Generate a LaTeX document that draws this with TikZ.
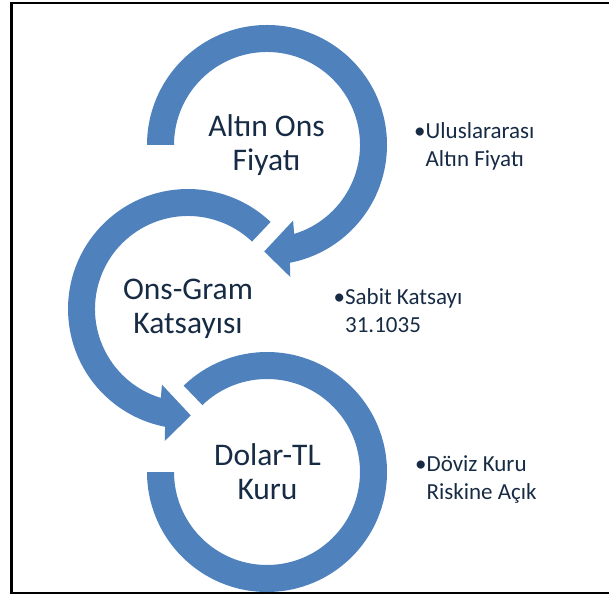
\documentclass[tikz,border=0pt]{standalone}
\usepackage{fontspec}
\setmainfont{Carlito}

\definecolor{ringblue}{HTML}{4F81BD}
\definecolor{textnavy}{HTML}{172B45}

\tikzset{
  ring/.style={fill=ringblue, draw=none},
  steplabel/.style={anchor=base, text=textnavy, inner sep=0pt, font=\fontsize{31.5}{34}\selectfont},
  notelabel/.style={anchor=base west, text=textnavy, inner sep=0pt, font=\fontsize{23}{28}\selectfont},
}

\begin{document}
\begin{tikzpicture}[x=1pt, y=1pt]
\useasboundingbox (0,0) rectangle (609,594);
% frame (right side runs off the page)
\draw[line width=2.5pt] (11.3,591.2) rectangle (620,0.8);

\coordinate (ctop) at (267,449);
\coordinate (cmid) at (188,285);
\coordinate (cbot) at (267,122);

% rings FIRST (so the texts stay on top)
\fill[ring, shift={(ctop)}] (180:93) -- (180:120) arc[start angle=180, end angle=-79, radius=120]
  -- (-80:134) -- (-91.5:106.5) -- (-71:80) -- (-73:93) arc[start angle=-73, end angle=180, radius=93] -- cycle ;
\fill[ring, shift={(cmid)}] (46.5:93) -- (46.5:120) arc[start angle=46.5, end angle=259, radius=120]
  -- (260:134) -- (271.5:106.5) -- (251:80) -- (253:93) arc[start angle=253, end angle=46.5, radius=93] -- cycle ;
\fill[ring, shift={(cbot)}] (180:93) -- (180:120) arc[start angle=180, end angle=494, radius=120]
  -- (494:93) arc[start angle=494, end angle=180, radius=93] -- cycle ;

\node (altin)[steplabel] at (266.5,457.3) {\begin{tabular}[t]{@{}c@{}}Altın Ons\\Fiyatı\end{tabular}} ;
\node (onsgram)[steplabel] at (188,294) {\begin{tabular}[t]{@{}c@{}}Ons-Gram\\Katsayısı\end{tabular}} ;
\node (dolar)[steplabel] at (267.5,129) {\begin{tabular}[t]{@{}c@{}}Dolar-TL\\Kuru\end{tabular}} ;

% notes on the right
\node (not1)[notelabel] at (414,455) {\begin{tabular}[t]{@{}l@{}l@{}}•&Uluslararası\\&Altın Fiyatı\end{tabular}} ;
\node (not2)[notelabel] at (333.5,289) {\begin{tabular}[t]{@{}l@{}l@{}}•&Sabit Katsayı\\&31.1035\end{tabular}} ;
\node (not3)[notelabel] at (415,123) {\begin{tabular}[t]{@{}l@{}l@{}}•&Döviz Kuru\\&Riskine Açık\end{tabular}} ;
\end{tikzpicture}
\end{document}
